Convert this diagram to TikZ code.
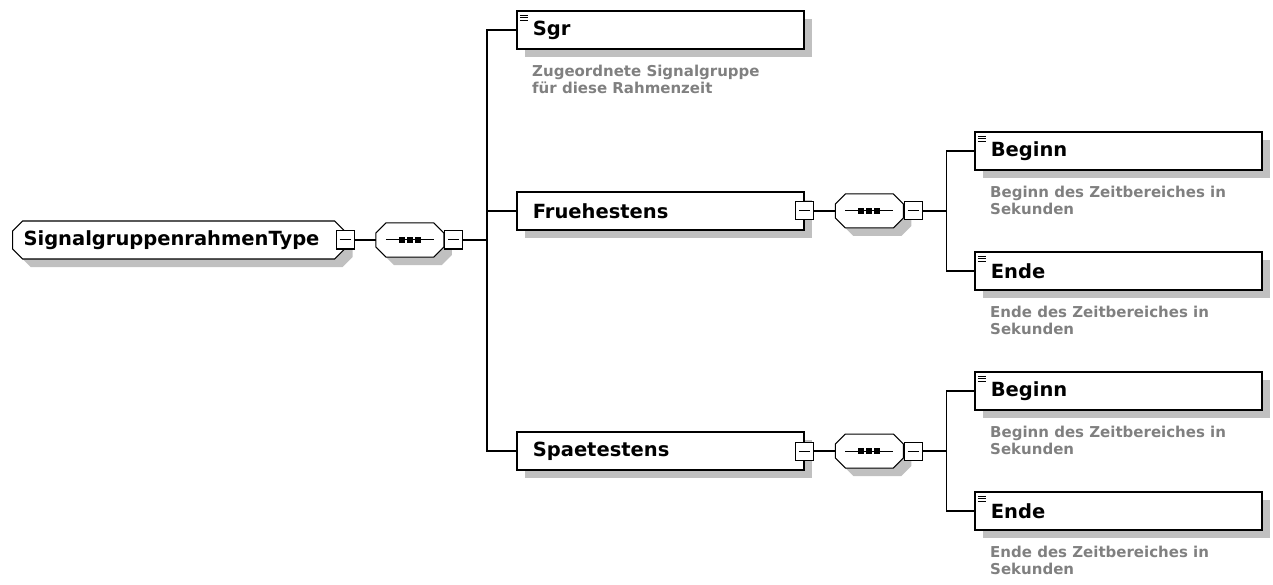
\documentclass[tikz,border=0pt]{standalone}
\usepackage{fontspec}
\setmainfont{DejaVu Sans}
\usepackage{tikz}
\usetikzlibrary{calc, positioning, shapes.misc, shadows}

\definecolor{shadegray}{RGB}{192,192,192}
\definecolor{docgray}{RGB}{128,128,128}

\newcommand{\lblfont}{\fontsize{19.5}{23}\selectfont\bfseries}
\newcommand{\docfont}{\fontsize{15}{17.5}\selectfont\bfseries}

% octagon of a sequence compositor, drawn round an empty node
\newcommand{\seqframe}[1]{%
  \begin{scope}[shift={(#1.center)}, x=1pt, y=1pt]
    \fill[shadegray, shift={(8,-8)}] (-24,17) -- (24,17) -- (34,7) -- (34,-7)
      -- (24,-17) -- (-24,-17) -- (-34,-7) -- (-34,7) -- cycle;
    \filldraw[fill=white, line width=1pt] (-24,17) -- (24,17) -- (34,7) -- (34,-7)
      -- (24,-17) -- (-24,-17) -- (-34,-7) -- (-34,7) -- cycle;
    \draw[line width=1pt] (-24,0) -- (24,0);
    \foreach \dx in {-8,0,8}
      \fill (\dx-3,-3) rectangle (\dx+3,3);
  \end{scope}}

\tikzset{
  boxshadow/.style={general shadow={fill=shadegray, shadow xshift=8pt, shadow yshift=-8pt}},
  typebox/.style={chamfered rectangle, chamfered rectangle sep=5pt, draw, fill=white,
    line width=1.1pt, boxshadow, text width=310pt, align=left, inner xsep=6pt,
    minimum height=38pt, font=\lblfont, anchor=west},
  elembox/.style={rectangle, draw, fill=white, line width=1.7pt, boxshadow,
    text width=255pt, align=left, inner xsep=16pt, minimum height=38pt,
    font=\lblfont, anchor=west},
  leafbox/.style={elembox, path picture={
      \foreach \dy in {4,6.5,9}
        \draw[line width=0.9pt] ($(path picture bounding box.north west)+(3pt,-\dy*1pt)$) -- ++(8pt,0pt);}},
  minusbox/.style={rectangle, draw, fill=white, line width=1pt, minimum size=18pt,
    inner sep=0pt, path picture={
      \draw[line width=1pt] ($(path picture bounding box.west)+(3.5pt,0pt)$)
        -- ($(path picture bounding box.east)+(-3.5pt,0pt)$);}},
  seqbox/.style={rectangle, minimum width=68pt, minimum height=34pt, inner sep=0pt},
  docnote/.style={font=\docfont, text=docgray, align=left, inner sep=0pt, anchor=north west},
  conn/.style={line width=1.1pt}
}

\begin{document}
\begin{tikzpicture}[x=1pt, y=-1pt]
  \useasboundingbox (0,0) rectangle (1273,585);

  % root type and its sequence
  \node[typebox] (root) at (12,240) {SignalgruppenrahmenType};
  \node[minusbox] (rootmin) at (root.east) {};
  \node[seqbox, right=21pt of rootmin] (rootseq) {};
  \seqframe{rootseq}
  \node[minusbox, right=0pt of rootseq] (rootseqmin) {};
  \coordinate[right=24pt of rootseqmin] (busA);

  % children of the root sequence
  \node[leafbox] (sgr) at (516,30) {Sgr};
  \node[elembox] (frueh) at (516,211) {Fruehestens};
  \node[elembox] (spaet) at (516,451) {Spaetestens};
  \node[docnote] (sgrdoc) at ($(sgr.south west)+(16pt,-15pt)$)
    {Zugeordnete Signalgruppe\\für diese Rahmenzeit};

  \draw[conn] (rootmin.east) -- (rootseq.west);
  \draw[conn] (rootseqmin.east) -- (busA);
  \draw[conn] (sgr.west) -| (busA) |- (spaet.west);
  \draw[conn] (frueh.west) -- (busA |- frueh.west);

  % Fruehestens
  \node[minusbox] (fruehmin) at (frueh.east) {};
  \node[seqbox, right=21pt of fruehmin] (fruehseq) {};
  \seqframe{fruehseq}
  \node[minusbox, right=0pt of fruehseq] (fruehseqmin) {};
  \coordinate[right=24pt of fruehseqmin] (busB);
  \node[leafbox] (fbeginn) at (974,151) {Beginn};
  \node[leafbox] (fende) at (974,271) {Ende};
  \node[docnote] (fbeginndoc) at ($(fbeginn.south west)+(16pt,-15pt)$)
    {Beginn des Zeitbereiches in\\Sekunden};
  \node[docnote] (fendedoc) at ($(fende.south west)+(16pt,-15pt)$)
    {Ende des Zeitbereiches in\\Sekunden};

  \draw[conn] (fruehmin.east) -- (fruehseq.west);
  \draw[conn] (fruehseqmin.east) -- (busB);
  \draw[conn] (fbeginn.west) -| (busB) |- (fende.west);

  % Spaetestens
  \node[minusbox] (spaetmin) at (spaet.east) {};
  \node[seqbox, right=21pt of spaetmin] (spaetseq) {};
  \seqframe{spaetseq}
  \node[minusbox, right=0pt of spaetseq] (spaetseqmin) {};
  \coordinate[right=24pt of spaetseqmin] (busC);
  \node[leafbox] (sbeginn) at (974,391) {Beginn};
  \node[leafbox] (sende) at (974,511) {Ende};
  \node[docnote] (sbeginndoc) at ($(sbeginn.south west)+(16pt,-15pt)$)
    {Beginn des Zeitbereiches in\\Sekunden};
  \node[docnote] (sendedoc) at ($(sende.south west)+(16pt,-15pt)$)
    {Ende des Zeitbereiches in\\Sekunden};

  \draw[conn] (spaetmin.east) -- (spaetseq.west);
  \draw[conn] (spaetseqmin.east) -- (busC);
  \draw[conn] (sbeginn.west) -| (busC) |- (sende.west);
\end{tikzpicture}
\end{document}
